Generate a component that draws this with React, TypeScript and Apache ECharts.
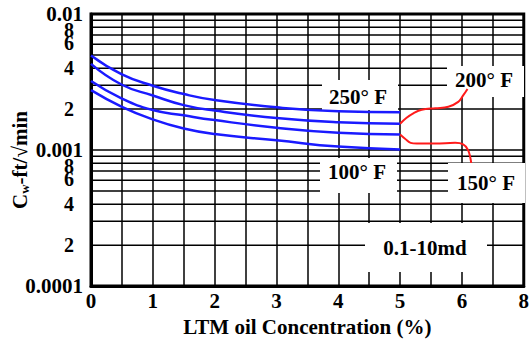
import React, { useEffect, useRef } from "react";
import * as echarts from "echarts";

const FONT = "'Liberation Serif', 'Times New Roman', serif";

// x axis
const xTickLabels = ["0", "1", "2", "3", "4", "5", "6", "8"];
// y axis tick labels (log axis)
const yTickValues = [1e-4, 2e-4, 4e-4, 6e-4, 8e-4, 1e-3, 2e-3, 4e-3, 6e-3, 8e-3, 1e-2];
const yTickLabels = ["0.0001", "2", "4", "6", "8", "0.001", "2", "4", "6", "8", "0.01"];
// horizontal grid lines: 1..9 in each decade
const yGridValues = [
  1e-4, 2e-4, 3e-4, 4e-4, 5e-4, 6e-4, 7e-4, 8e-4, 9e-4,
  1e-3, 2e-3, 3e-3, 4e-3, 5e-3, 6e-3, 7e-3, 8e-3, 9e-3,
  1e-2,
];

// blue curves
const xConc = [0, 0.5, 1, 1.5, 2, 3, 4, 5];
const c250 = [0.00495, 0.0036, 0.00297, 0.00258, 0.00233, 0.00206, 0.00193, 0.0019];
const c200 = [0.0043, 0.00302, 0.00252, 0.00214, 0.00195, 0.00172, 0.0016, 0.00156];
const c150 = [0.00322, 0.00239, 0.00197, 0.0018, 0.00166, 0.00146, 0.00134, 0.0013];
const c100 = [0.00276, 0.00208, 0.00168, 0.00144, 0.00131, 0.00118, 0.00106, 0.00101];

// red leader curves
const lead200X = [5.0, 5.1, 5.22, 5.35, 5.57, 5.78, 5.94, 6.02, 6.09];
const lead200Y = [0.00156, 0.00172, 0.00187, 0.00198, 0.00203, 0.00208, 0.00226, 0.00252, 0.00281];
const lead150X = [5.0, 5.08, 5.17, 5.27, 5.57, 5.89, 6.02, 6.1, 6.15];
const lead150Y = [0.0013, 0.00121, 0.00113, 0.001116, 0.001116, 0.00113, 0.0011, 0.001, 0.000805];

const curveLabels = ["250° F", "200° F", "150° F", "100° F", "0.1-10md"];
const yTitle = "{c|C}{s|w}{c|-ft/√min}";

const zip = (xs: number[], ys: number[]) => xs.map((x, i) => [x, ys[i]]);

export default function App() {
  const ref = useRef<HTMLDivElement>(null);
  useEffect(() => {
    if (!ref.current) return;
    const chart = echarts.init(ref.current, null, { renderer: "svg" });
    const textStyle = { fontFamily: FONT, fontWeight: "bold" as const, fontSize: 21, color: "#000" };

    const gridSeries = yGridValues.map((v, i) => {
      const idx = yTickValues.findIndex((t) => Math.abs(t - v) / v < 1e-6);
      const txt = idx >= 0 ? yTickLabels[idx] : "";
      const isDecade = txt.length > 1;
      const dy = txt === "8" ? 3 : txt === "6" ? -1 : 0;
      return {
        type: "line",
        name: "grid" + i,
        z: 0,
        silent: true,
        symbol: "circle",
        symbolSize: 0,
        showSymbol: true,
        lineStyle: { color: "#000", width: 1.5 },
        itemStyle: { color: "#000" },
        label: { show: false },
        data: [
          {
            value: [0, v],
            label: idx >= 0
              ? {
                  show: true,
                  position: "left",
                  formatter: txt,
                  distance: isDecade ? 8 : 17,
                  offset: [0, dy],
                  fontFamily: FONT,
                  fontWeight: "bold",
                  fontSize: isDecade ? 21 : 20,
                  lineHeight: 14,
                  color: "#000",
                }
              : { show: false },
          },
          [7, v],
        ],
      };
    });

    const blue = (name: string, ys: number[]) => ({
      type: "line",
      name,
      data: zip(xConc, ys),
      smooth: 0.5,
      showSymbol: false,
      symbol: "none",
      z: 10,
      lineStyle: { color: "#1a1aff", width: 2.5 },
    });
    const red = (name: string, xs: number[], ys: number[]) => ({
      type: "line",
      name,
      data: zip(xs, ys),
      smooth: 0.4,
      showSymbol: false,
      symbol: "none",
      z: 10,
      lineStyle: { color: "#ff1a1a", width: 2 },
    });

    const box = (x: number, y: number, w: number, h: number) => ({
      type: "rect",
      z: 5,
      shape: { x, y, width: w, height: h },
      style: { fill: "#fff" },
      silent: true,
    });
    const label = (text: string, x: number, y: number) => ({
      type: "text",
      z: 20,
      x,
      y,
      style: {
        text,
        fill: "#000",
        font: `bold 21px ${FONT}`,
        textAlign: "center",
        textVerticalAlign: "middle",
      },
      silent: true,
    });

    chart.setOption({
      animation: false,
      grid: {
        left: 91,
        right: 2,
        top: 14,
        bottom: 46,
        show: true,
        borderColor: "#000",
        borderWidth: 3,
        backgroundColor: "transparent",
      },
      xAxis: {
        type: "value",
        min: 0,
        max: 7,
        interval: 0.5,
        name: "LTM oil Concentration (%)",
        nameLocation: "middle",
        nameGap: 22,
        nameTextStyle: textStyle,
        axisLine: { lineStyle: { color: "#000", width: 3 } },
        axisTick: { show: false },
        axisLabel: {
          ...textStyle,
          margin: 4,
          formatter: (v: number) =>
            Number.isInteger(v) ? xTickLabels[v] ?? "" : "",
        },
        splitLine: { show: true, lineStyle: { color: "#000", width: 1.5 } },
      },
      yAxis: {
        type: "log",
        min: 1e-4,
        max: 1e-2,
        logBase: 10,
        axisLine: { lineStyle: { color: "#000", width: 3 } },
        axisTick: { show: false },
        axisLabel: { show: false },
        splitLine: { show: false },
      },
      series: [
        ...gridSeries,
        blue("250", c250),
        blue("200", c200),
        blue("150", c150),
        blue("100", c100),
        red("lead200", lead200X, lead200Y),
        red("lead150", lead150X, lead150Y),
      ],
      graphic: [
        box(322, 80, 76, 30),
        box(447, 66, 77, 31),
        box(320, 158, 77, 35),
        box(448, 163, 77, 40),
        box(365, 223, 122, 49),
        label(curveLabels[0], 358, 97),
        label(curveLabels[1], 484, 80),
        label(curveLabels[2], 486, 183),
        label(curveLabels[3], 357, 172),
        label(curveLabels[4], 425, 248),
        {
          type: "text",
          x: 20,
          y: 160,
          rotation: Math.PI / 2,
          z: 20,
          silent: true,
          style: {
            text: yTitle,
            fill: "#000",
            align: "center",
            verticalAlign: "middle",
            rich: {
              c: { fontFamily: FONT, fontWeight: "bold", fontSize: 21, fill: "#000" },
              s: { fontFamily: FONT, fontWeight: "bold", fontSize: 13, fill: "#000", verticalAlign: "bottom", padding: [6, 0, 0, 0] },
            },
          },
        },
      ],
    });
    return () => chart.dispose();
  }, []);
  return (
    <div
      ref={ref}
      style={{ position: "fixed", left: 0, top: 0, width: 532, height: 342, background: "#fff" }}
    />
  );
}
